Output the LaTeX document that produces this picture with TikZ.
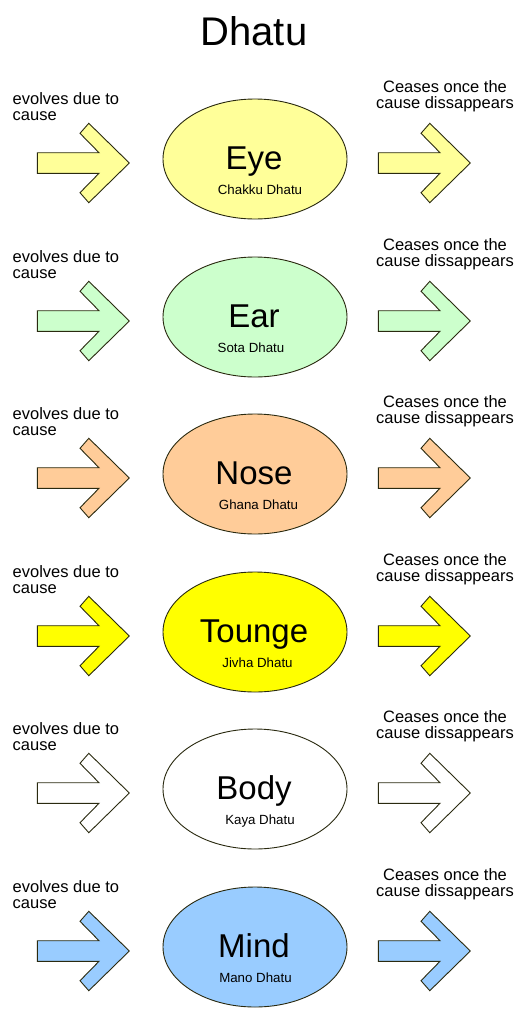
\documentclass[tikz,border=0pt]{standalone}
\usepackage{fontspec}
\setmainfont{Liberation Sans}
\usepackage{tikz}
\usetikzlibrary{shapes.geometric}

\definecolor{eyecol}{HTML}{FFFF99}
\definecolor{earcol}{HTML}{CCFFCC}
\definecolor{nosecol}{HTML}{FFCC99}
\definecolor{tongcol}{HTML}{FFFF00}
\definecolor{bodycol}{HTML}{FFFFFF}
\definecolor{mindcol}{HTML}{99CCFF}
\definecolor{edgecol}{HTML}{2A2A10}

\tikzset{
  pics/fatarrow/.style={code={
    \draw[draw=edgecol, fill=#1, line width=0.9pt] (0,-10.3) -- (61.7,-10.3) -- (42.7,-29.7) -- (51.5,-39.7)
      -- (92,0) -- (51.5,39.7) -- (42.7,29.7) -- (61.7,10.3) -- (0,10.3) -- cycle;
  }}
}

\begin{document}
\begin{tikzpicture}[x=1pt,y=-1pt]
        \tikzstyle{every node}+=[inner sep=0pt, outer sep=0pt]
        \tikzstyle{organ}=[ellipse, draw=edgecol, line width=0.9pt, minimum width=184pt, minimum height=120pt]
        \tikzstyle{nametxt}=[font=\fontsize{33}{36}\selectfont, anchor=base]
        \tikzstyle{subtxt}=[font=\fontsize{13.3}{15}\selectfont, anchor=base]
        \tikzstyle{causetxt}=[font=\fontsize{16.5}{15.5}\selectfont, align=left, anchor=base west]
        \tikzstyle{ceasetxt}=[font=\fontsize{16.5}{15.5}\selectfont, align=center, anchor=base]
        \fill[white] (0,0) rectangle (529,1009);
        \useasboundingbox (0,0) rectangle (529,1009);
        \node[font=\fontsize{40}{44}\selectfont, anchor=base] (title) at (254,45) {Dhatu};
        % eye
        \node[organ, fill=eyecol] (eye) at (255,159) {};
        \node[nametxt] (eyename) at (254,169) {Eye};
        \node[subtxt] (eyesub) at (260,194) {Chakku Dhatu};
        \node[causetxt] (eyecause) at (12.7,120) {evolves due to\\cause};
        \node[ceasetxt] (eyecease) at (445,108) {Ceases once the\\cause dissappears};
        \pic at (37.3,163) {fatarrow=eyecol};
        \pic at (378.3,163) {fatarrow=eyecol};
        % ear
        \node[organ, fill=earcol] (ear) at (255,317) {};
        \node[nametxt] (earname) at (254,327) {Ear};
        \node[subtxt] (earsub) at (251,352) {Sota Dhatu};
        \node[causetxt] (earcause) at (12.7,278) {evolves due to\\cause};
        \node[ceasetxt] (earcease) at (445,266) {Ceases once the\\cause dissappears};
        \pic at (37.3,321) {fatarrow=earcol};
        \pic at (378.3,321) {fatarrow=earcol};
        % nose
        \node[organ, fill=nosecol] (nose) at (255,474) {};
        \node[nametxt] (nosename) at (254,484) {Nose};
        \node[subtxt] (nosesub) at (258.5,509) {Ghana Dhatu};
        \node[causetxt] (nosecause) at (12.7,435) {evolves due to\\cause};
        \node[ceasetxt] (nosecease) at (445,423) {Ceases once the\\cause dissappears};
        \pic at (37.3,478) {fatarrow=nosecol};
        \pic at (378.3,478) {fatarrow=nosecol};
        % tounge
        \node[organ, fill=tongcol] (tong) at (255,632) {};
        \node[nametxt] (tongname) at (254,642) {Tounge};
        \node[subtxt] (tongsub) at (257.5,667) {Jivha Dhatu};
        \node[causetxt] (tongcause) at (12.7,593) {evolves due to\\cause};
        \node[ceasetxt] (tongcease) at (445,581) {Ceases once the\\cause dissappears};
        \pic at (37.3,636) {fatarrow=tongcol};
        \pic at (378.3,636) {fatarrow=tongcol};
        % body
        \node[organ, fill=bodycol] (body) at (255,789) {};
        \node[nametxt] (bodyname) at (254,799) {Body};
        \node[subtxt] (bodysub) at (260,824) {Kaya Dhatu};
        \node[causetxt] (bodycause) at (12.7,750) {evolves due to\\cause};
        \node[ceasetxt] (bodycease) at (445,738) {Ceases once the\\cause dissappears};
        \pic at (37.3,793) {fatarrow=bodycol};
        \pic at (378.3,793) {fatarrow=bodycol};
        % mind
        \node[organ, fill=mindcol] (mind) at (255,947) {};
        \node[nametxt] (mindname) at (254,957) {Mind};
        \node[subtxt] (mindsub) at (255.5,982) {Mano Dhatu};
        \node[causetxt] (mindcause) at (12.7,908) {evolves due to\\cause};
        \node[ceasetxt] (mindcease) at (445,896) {Ceases once the\\cause dissappears};
        \pic at (37.3,951) {fatarrow=mindcol};
        \pic at (378.3,951) {fatarrow=mindcol};
\end{tikzpicture}
\end{document}
